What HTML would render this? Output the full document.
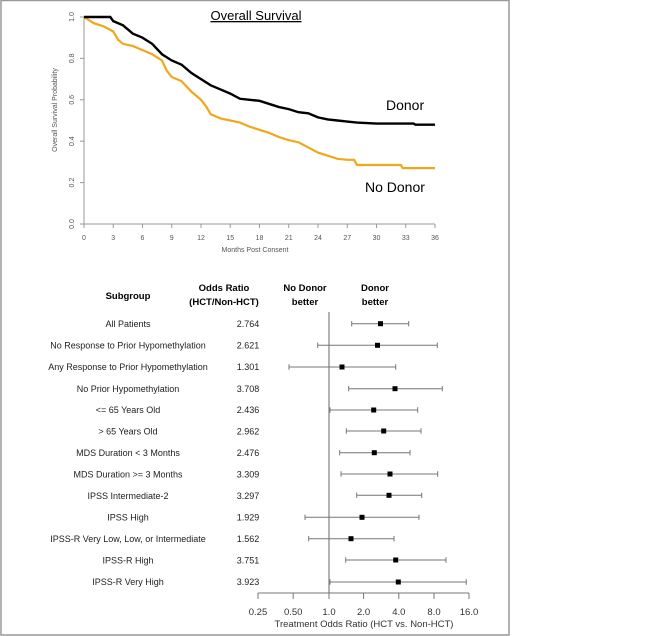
<!DOCTYPE html>
<html><head><meta charset="utf-8"><style>
body{margin:0;background:#fff;}
svg{display:block;font-family:"Liberation Sans",Arial,sans-serif;}
</style></head><body>
<svg width="653" height="636" viewBox="0 0 653 636">
<rect x="1" y="0.5" width="508" height="634.5" fill="none" stroke="#999" stroke-width="1.5"/>
<text x="256" y="20" font-size="13" text-anchor="middle" text-decoration="underline">Overall Survival</text>
<g stroke="#999" stroke-width="1">
<line x1="84" y1="17" x2="84" y2="224"/>
<line x1="84" y1="224" x2="435" y2="224"/>
<line x1="80" y1="17" x2="84" y2="17"/><line x1="80" y1="58.4" x2="84" y2="58.4"/><line x1="80" y1="99.8" x2="84" y2="99.8"/><line x1="80" y1="141.2" x2="84" y2="141.2"/><line x1="80" y1="182.6" x2="84" y2="182.6"/><line x1="80" y1="224" x2="84" y2="224"/>
<line x1="84" y1="224" x2="84" y2="228"/><line x1="113.25" y1="224" x2="113.25" y2="228"/><line x1="142.5" y1="224" x2="142.5" y2="228"/><line x1="171.75" y1="224" x2="171.75" y2="228"/><line x1="201" y1="224" x2="201" y2="228"/><line x1="230.25" y1="224" x2="230.25" y2="228"/><line x1="259.5" y1="224" x2="259.5" y2="228"/><line x1="288.75" y1="224" x2="288.75" y2="228"/><line x1="318" y1="224" x2="318" y2="228"/><line x1="347.25" y1="224" x2="347.25" y2="228"/><line x1="376.5" y1="224" x2="376.5" y2="228"/><line x1="405.75" y1="224" x2="405.75" y2="228"/><line x1="435" y1="224" x2="435" y2="228"/>
</g>
<g font-size="7" fill="#555" text-anchor="middle">
<text transform="translate(74,17) rotate(-90)">1.0</text>
<text transform="translate(74,58.4) rotate(-90)">0.8</text>
<text transform="translate(74,99.8) rotate(-90)">0.6</text>
<text transform="translate(74,141.2) rotate(-90)">0.4</text>
<text transform="translate(74,182.6) rotate(-90)">0.2</text>
<text transform="translate(74,224) rotate(-90)">0.0</text>
<text x="84" y="240">0</text><text x="113.25" y="240">3</text><text x="142.5" y="240">6</text><text x="171.75" y="240">9</text><text x="201" y="240">12</text><text x="230.25" y="240">15</text><text x="259.5" y="240">18</text><text x="288.75" y="240">21</text><text x="318" y="240">24</text><text x="347.25" y="240">27</text><text x="376.5" y="240">30</text><text x="405.75" y="240">33</text><text x="435" y="240">36</text>
<text x="255" y="252">Months Post Consent</text>
<text transform="translate(57,110) rotate(-90)">Overall Survival Probability</text>
</g>
<g transform="translate(84,224) scale(9.75,-207)" fill="none">
<polyline vector-effect="non-scaling-stroke" stroke="#f0a81a" stroke-width="2.2" points="0,1 1,0.97 2,0.955 3,0.93 3.5,0.89 4,0.87 5,0.86 6,0.84 7,0.82 8,0.79 8.5,0.74 9,0.71 10,0.69 11,0.64 12,0.6 12.5,0.57 13,0.53 14,0.51 15,0.5 16,0.49 17,0.47 18,0.455 19,0.44 20,0.42 21,0.405 22,0.395 23,0.37 24,0.345 25,0.33 26,0.315 27,0.31 27.7,0.31 28,0.285 32.5,0.285 32.7,0.27 36,0.27"/>
<polyline vector-effect="non-scaling-stroke" stroke="#000" stroke-width="2.4" points="0,1 2.7,1 3,0.98 4,0.96 5,0.92 6,0.9 7,0.87 8,0.82 9,0.79 10,0.77 11,0.73 12,0.7 13,0.67 14,0.65 15,0.63 16,0.605 17,0.6 18,0.595 19,0.58 20,0.565 21,0.555 22,0.54 23,0.535 24,0.515 25,0.505 26,0.5 27,0.495 28,0.49 30,0.485 33.8,0.485 34,0.48 36,0.48"/>
</g>
<text x="386" y="110" font-size="14">Donor</text>
<text x="365" y="192" font-size="14">No Donor</text>
<g font-size="9.5" font-weight="bold" text-anchor="middle">
<text x="128" y="299">Subgroup</text>
<text x="224" y="291">Odds Ratio</text>
<text x="224" y="305">(HCT/Non-HCT)</text>
<text x="305" y="291">No Donor</text>
<text x="305" y="305">better</text>
<text x="375" y="291">Donor</text>
<text x="375" y="305">better</text>
</g>
<g font-size="9" fill="#222" text-anchor="middle">
<text x="128" y="327">All Patients</text><text x="248" y="327">2.764</text>
<text x="128" y="348.5">No Response to Prior Hypomethylation</text><text x="248" y="348.5">2.621</text>
<text x="128" y="370">Any Response to Prior Hypomethylation</text><text x="248" y="370">1.301</text>
<text x="128" y="392">No Prior Hypomethylation</text><text x="248" y="392">3.708</text>
<text x="128" y="413">&lt;= 65 Years Old</text><text x="248" y="413">2.436</text>
<text x="128" y="434.5">&gt; 65 Years Old</text><text x="248" y="434.5">2.962</text>
<text x="128" y="456">MDS Duration &lt; 3 Months</text><text x="248" y="456">2.476</text>
<text x="128" y="477.5">MDS Duration &gt;= 3 Months</text><text x="248" y="477.5">3.309</text>
<text x="128" y="499">IPSS Intermediate-2</text><text x="248" y="499">3.297</text>
<text x="128" y="520.5">IPSS High</text><text x="248" y="520.5">1.929</text>
<text x="128" y="542">IPSS-R Very Low, Low, or Intermediate</text><text x="248" y="542">1.562</text>
<text x="128" y="563.5">IPSS-R High</text><text x="248" y="563.5">3.751</text>
<text x="128" y="585">IPSS-R Very High</text><text x="248" y="585">3.923</text>
</g>
<line x1="329" y1="312" x2="329" y2="593" stroke="#888" stroke-width="1.3"/>
<g stroke="#777" stroke-width="1">
<line x1="258" y1="593" x2="469" y2="593"/>
<line x1="258" y1="593" x2="258" y2="599"/><line x1="293.2" y1="593" x2="293.2" y2="599"/><line x1="329" y1="593" x2="329" y2="599"/><line x1="363.6" y1="593" x2="363.6" y2="599"/><line x1="398.8" y1="593" x2="398.8" y2="599"/><line x1="434" y1="593" x2="434" y2="599"/><line x1="469" y1="593" x2="469" y2="599"/>
</g>
<g stroke="#777" stroke-width="1">
<path d="M351.7 323.7H408.7M351.7 321v5.4M408.7 321v5.4"/>
<path d="M317.7 345.3H437.3M317.7 342.6v5.4M437.3 342.6v5.4"/>
<path d="M289 367H395.7M289 364.3v5.4M395.7 364.3v5.4"/>
<path d="M348.7 388.7H442.3M348.7 386v5.4M442.3 386v5.4"/>
<path d="M330 410H417.7M330 407.3v5.4M417.7 407.3v5.4"/>
<path d="M346.3 431H421M346.3 428.3v5.4M421 428.3v5.4"/>
<path d="M339.7 452.7H410M339.7 450v5.4M410 450v5.4"/>
<path d="M341 474H437.7M341 471.3v5.4M437.7 471.3v5.4"/>
<path d="M356.7 495.3H421.7M356.7 492.6v5.4M421.7 492.6v5.4"/>
<path d="M305 517.3H419M305 514.6v5.4M419 514.6v5.4"/>
<path d="M308.7 538.7H394M308.7 536v5.4M394 536v5.4"/>
<path d="M345.7 560H446M345.7 557.3v5.4M446 557.3v5.4"/>
<path d="M330 582H466.3M330 579.3v5.4M466.3 579.3v5.4"/>
</g>
<g fill="#000">
<rect x="378" y="321.2" width="5" height="5"/>
<rect x="375" y="342.8" width="5" height="5"/>
<rect x="339.5" y="364.5" width="5" height="5"/>
<rect x="392.5" y="386.2" width="5" height="5"/>
<rect x="371.2" y="407.5" width="5" height="5"/>
<rect x="381.2" y="428.5" width="5" height="5"/>
<rect x="371.8" y="450.2" width="5" height="5"/>
<rect x="387.5" y="471.5" width="5" height="5"/>
<rect x="386.5" y="492.8" width="5" height="5"/>
<rect x="359.5" y="514.8" width="5" height="5"/>
<rect x="348.5" y="536.2" width="5" height="5"/>
<rect x="393.2" y="557.5" width="5" height="5"/>
<rect x="395.8" y="579.5" width="5" height="5"/>
</g>
<g font-size="9.5" fill="#333" text-anchor="middle">
<text x="258" y="615">0.25</text><text x="293.2" y="615">0.50</text><text x="329" y="615">1.0</text><text x="363.6" y="615">2.0</text><text x="398.8" y="615">4.0</text><text x="434" y="615">8.0</text><text x="469" y="615">16.0</text>
<text x="364" y="627">Treatment Odds Ratio (HCT vs. Non-HCT)</text>
</g>
</svg>
</body></html>
